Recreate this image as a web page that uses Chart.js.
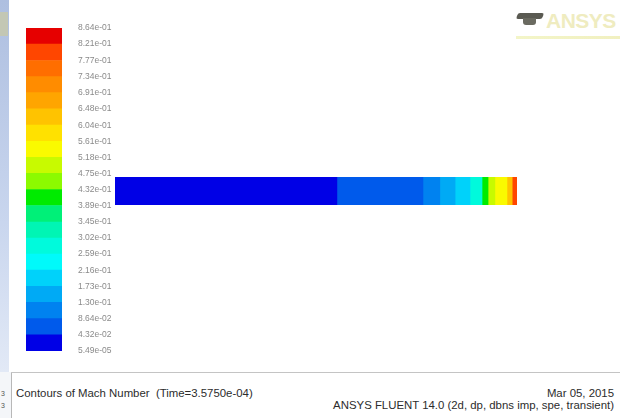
<!DOCTYPE html>
<html lang="en">
<head>
    <meta charset="UTF-8">
    <title>Contours of Mach Number</title>
    <script src="https://cdn.jsdelivr.net/npm/chart.js"></script>
    <style>
        body { margin: 0; width: 620px; height: 418px; background: #fff; position: relative; overflow: hidden; font-family: "Liberation Sans", Arial, sans-serif; }
        .strip { position: absolute; left: 0; top: 0; width: 9px; height: 372px; background: linear-gradient(#aebfe0, #c9d6ee 60%, #e2e9f6); }
        .strip-top { position: absolute; left: 0; top: 12px; width: 8px; height: 24px; background: #c3c7b4; }
        .strip-bot { position: absolute; left: 0; top: 372px; width: 11px; height: 46px; background: #f4f6f9; border-right: 1px solid #b8b8b8; }
        .rule { position: absolute; left: 11px; top: 372px; width: 609px; height: 1px; background: #c4c4c4; }
        #cbarWrap { position: absolute; left: 26px; top: 0; width: 100px; height: 372px; }
        #ductWrap { position: absolute; left: 115px; top: 177px; width: 402px; height: 28px; }
        .title { position: absolute; left: 16px; top: 387px; font-size: 11.4px; color: #2c2c2c; }
        .date { position: absolute; right: 6px; top: 387px; font-size: 11.4px; color: #2c2c2c; text-align: right; }
        .ver { position: absolute; right: 6px; top: 399px; font-size: 11.4px; color: #2c2c2c; text-align: right; white-space: nowrap; }
        .logo { position: absolute; left: 546px; top: 9px; font-size: 21px; font-weight: bold; color: #efecc0; letter-spacing: -0.5px; }
        .cap { position: absolute; left: 517px; top: 13px; width: 26px; height: 6px; background: #5a5a52; transform: skewX(-20deg); border-radius: 2px; }
        .cap2 { position: absolute; left: 523px; top: 18px; width: 13px; height: 7px; background: #6a6a60; border-radius: 0 0 3px 3px; }
        .tag { position: absolute; left: 516px; top: 36px; width: 104px; height: 3px; background: linear-gradient(90deg, #f3f5c8, #f1f0c0); }
        .side { position: absolute; left: 1px; font-size: 7px; color: #555; }
    </style>
</head>
<body>
    <div class="strip"></div>
    <div class="strip-top"></div>
    <div class="strip-bot"></div>
    <div class="rule"></div>
    <span class="side" style="top:390px">3</span>
    <span class="side" style="top:402px">3</span>

    <div id="cbarWrap"><canvas id="cbar"></canvas></div>
    <div id="ductWrap"><canvas id="duct"></canvas></div>

    <div class="cap"></div><div class="cap2"></div>
    <div class="logo">ANSYS</div>
    <div class="tag"></div>

    <div class="title">Contours of Mach Number &nbsp;(Time=3.5750e-04)</div>
    <div class="date">Mar 05, 2015</div>
    <div class="ver">ANSYS FLUENT 14.0 (2d, dp, dbns imp, spe, transient)</div>

    <script>
        // contour levels (bottom -> top), as printed on the colour bar
        const levelLabels = ['5.49e-05', '4.32e-02', '8.64e-02', '1.30e-01', '1.73e-01', '2.16e-01', '2.59e-01',
            '3.02e-01', '3.45e-01', '3.89e-01', '4.32e-01', '4.75e-01', '5.18e-01', '5.61e-01',
            '6.04e-01', '6.48e-01', '6.91e-01', '7.34e-01', '7.77e-01', '8.21e-01', '8.64e-01'];
        const levels = levelLabels.map(parseFloat);

        // band colours, bottom -> top
        const bandColors = ['#0000e6', '#005aeb', '#0082f0', '#00aaf5', '#00d2fa', '#00fafa', '#00fadc',
            '#00f5b4', '#00f078', '#00eb00', '#8cfa00', '#c8fa00', '#fafa00', '#ffe100',
            '#ffc300', '#ffa500', '#ff8c00', '#ff6e00', '#ff4600', '#e60000'];

        // duct: segment end positions along the duct (0 = inlet, 1 = exit) and Mach number in each
        const ductEnds = [0.552, 0.766, 0.808, 0.846, 0.883, 0.913, 0.928, 0.945, 0.975, 0.988, 1.0];
        const ductMach = [0.02, 0.065, 0.11, 0.15, 0.19, 0.27, 0.41, 0.49, 0.54, 0.63, 0.80];

        function colorFor(m) {
            for (let i = 0; i < levels.length - 1; i++) {
                if (m < levels[i + 1]) return bandColors[i];
            }
            return bandColors[bandColors.length - 1];
        }

        const cbarSets = bandColors.map((c, i) => ({
            data: [[levels[i], levels[i + 1]]],
            backgroundColor: c,
            borderWidth: 0,
            grouped: false,
            barPercentage: 1,
            categoryPercentage: 1
        }));

        new Chart(document.getElementById('cbar'), {
            type: 'bar',
            data: { labels: ['Mach Number'], datasets: cbarSets },
            options: {
                responsive: true,
                maintainAspectRatio: false,
                animation: false,
                layout: { padding: { top: 28, bottom: 19, left: 0, right: 0 } },
                plugins: { legend: { display: false }, tooltip: { enabled: false } },
                scales: {
                    x: { display: false },
                    y: {
                        position: 'right',
                        min: levels[0],
                        max: levels[levels.length - 1],
                        grid: { display: false, drawTicks: false },
                        border: { display: false },
                        afterBuildTicks: axis => { axis.ticks = levels.map(v => ({ value: v })); },
                        afterFit: axis => { axis.width = 64; },
                        ticks: {
                            padding: 16,
                            autoSkip: false,
                            color: '#8a8a8a',
                            font: { size: 8.5, family: 'Liberation Sans' },
                            callback: (v, i) => levelLabels[i]
                        }
                    }
                }
            }
        });

        const ductSets = ductEnds.map((e, i) => ({
            data: [[i === 0 ? 0 : ductEnds[i - 1], e]],
            backgroundColor: colorFor(ductMach[i]),
            borderWidth: 0,
            grouped: false,
            barPercentage: 1,
            categoryPercentage: 1
        }));

        new Chart(document.getElementById('duct'), {
            type: 'bar',
            data: { labels: ['duct'], datasets: ductSets },
            options: {
                indexAxis: 'y',
                responsive: true,
                maintainAspectRatio: false,
                animation: false,
                layout: { padding: 0 },
                plugins: { legend: { display: false }, tooltip: { enabled: false } },
                scales: {
                    x: { display: false, min: 0, max: 1 },
                    y: { display: false }
                }
            }
        });
    </script>
</body>
</html>
